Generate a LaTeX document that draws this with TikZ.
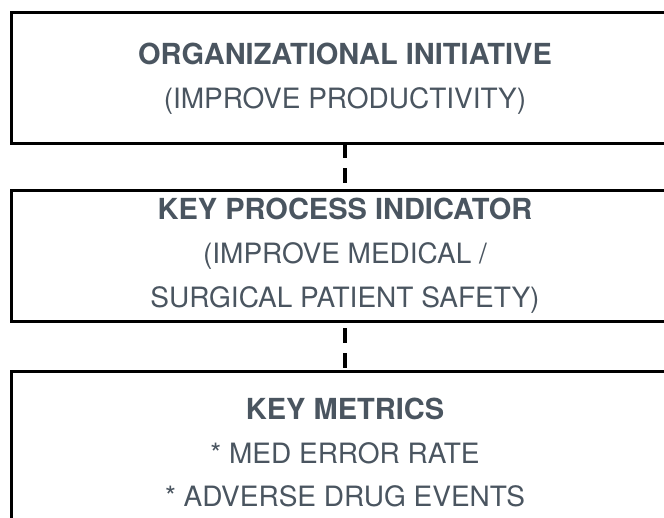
\documentclass[tikz,border=0pt]{standalone}
\usepackage{fontspec}
\setmainfont{TeX Gyre Heros}
\usepackage{tikz}
\definecolor{slate}{RGB}{74,85,96}
\tikzstyle{box}=[rectangle,draw,line width=3pt,minimum width=667pt,inner sep=0pt,outer sep=0pt]
\tikzstyle{heading}=[font=\fontsize{29}{34}\selectfont\bfseries,text=slate,anchor=base,inner sep=0pt]
\tikzstyle{entry}=[font=\fontsize{28}{34}\selectfont,text=slate,anchor=base,inner sep=0pt]
\tikzstyle{link}=[draw,line width=4pt,dash pattern=on 15pt off 10pt]

\begin{document}
\begin{tikzpicture}[x=1pt,y=-1pt]
    \useasboundingbox (0,0) rectangle (664,518);
    \clip (0,0) rectangle (664,518);
    % First we draw the three boxes
    \foreach \pos/\h/\name in {{(345,78)/131/init}, {(345,256)/131/kpi},
                               {(345,452)/161/metrics}}
        \node[box, minimum height=\h pt] (\name) at \pos {};

    % Then the texts, one line at a time
    \node[heading] (initTitle) at (345,65)  {ORGANIZATIONAL INITIATIVE};
    \node[entry]   (initGoal)  at (345,109) {(IMPROVE PRODUCTIVITY)};

    \node[heading] (kpiTitle)  at (345,220) {KEY PROCESS INDICATOR};
    \node[entry]   (kpiGoalA)  at (345,264) {(IMPROVE MEDICAL /};
    \node[entry]   (kpiGoalB)  at (345,308) {SURGICAL PATIENT SAFETY)};

    \node[heading] (metTitle)  at (345,420) {KEY METRICS};
    \node[entry]   (metRate)   at (345,463) {* MED ERROR RATE};
    \node[entry]   (metEvents) at (345,506) {* ADVERSE DRUG EVENTS};

    % Dashed links between the boxes
    \path[link] (init) -- (kpi);
    \path[link, dash phase=18pt] (kpi) -- (metrics);
\end{tikzpicture}
\end{document}
